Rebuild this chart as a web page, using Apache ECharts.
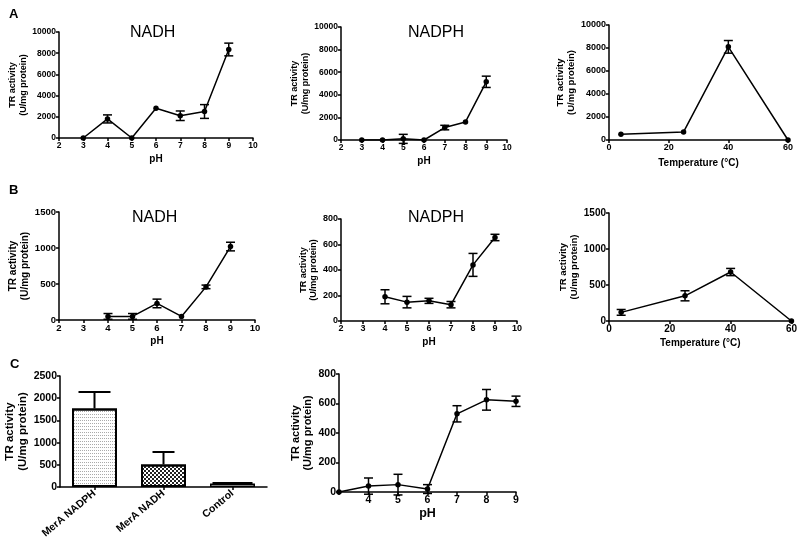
<!DOCTYPE html>
<html><head><meta charset="utf-8">
<script src="https://cdn.jsdelivr.net/npm/echarts@6/dist/echarts.min.js"></script>
<style>html,body{margin:0;padding:0;background:#fff}#c{width:800px;height:541px}</style>
</head><body><div id="c"></div>
<script>
// ---- data ----
const phA = [3,4,5,6,7,8,9];
const aNadh = [0,1800,0,2800,2100,2500,8350];
const aNadhErr = [0,380,0,0,450,650,600];
const aNadph = [0,0,100,0,1100,1600,5150];
const aNadphErr = [0,0,400,0,200,0,500];
const tempA = [4,25,40,60];
const aTemp = [500,700,8100,0];
const aTempErr = [0,0,550,0];
const phB = [4,5,6,7,8,9];
const bNadh = [50,50,230,50,460,1020];
const bNadhErr = [40,40,60,0,25,60];
const bNadph = [190,148,158,128,440,655];
const bNadphErr = [55,45,20,25,90,25];
const tempB = [4,25,40,60];
const bTemp = [120,350,680,0];
const bTempErr = [40,70,50,0];
const cCats = ['MerA NADPH','MerA NADH','Control'];
const cBars = [1770,510,80];
const cBarsErr = [370,280,15];
const phC = [3,4,5,6,7,8,9];
const cPh = [0,40,50,20,530,625,615];
const cPhErr = [0,55,70,30,55,70,35];

const FF = 'Liberation Sans, Arial, sans-serif';
const grids = [
  {left:59, top:32, width:194, height:106},
  {left:341, top:27, width:166, height:113},
  {left:609, top:25, width:179, height:115},
  {left:59, top:212, width:196, height:108},
  {left:341, top:219, width:176, height:102},
  {left:609, top:213, width:184, height:108},
  {left:60, top:376, width:207, height:114},
  {left:339, top:374, width:177, height:118}
];
const lineSt = {color:'#000',width:1.5};
function axBase(fs){
  return {
    axisLine:{show:true,onZero:false,lineStyle:lineSt},
    axisTick:{show:true,inside:false,length:3,lineStyle:lineSt},
    axisLabel:{color:'#000',fontFamily:FF,fontWeight:'bold',fontSize:fs,margin:3},
    splitLine:{show:false}
  };
}
function xv(i,min,max,interval,name,gap,fs,nfs,fmt){
  const b=axBase(fs);
  if(fmt) b.axisLabel.formatter=fmt;
  return Object.assign({type:'value',gridIndex:i,min,max,interval,name,nameLocation:'middle',nameGap:gap,
    nameTextStyle:{color:'#000',fontFamily:FF,fontWeight:'bold',fontSize:nfs}},b);
}
function yv(i,max,interval,gap,fs,nfs){
  const b=axBase(fs);
  b.axisLabel.formatter=v=>String(v);
  return Object.assign({type:'value',gridIndex:i,min:0,max,interval,name:'TR activity\n(U/mg protein)',
    nameLocation:'middle',nameRotate:90,nameGap:gap,
    nameTextStyle:{color:'#000',fontFamily:FF,fontWeight:'bold',fontSize:nfs,lineHeight:nfs+1.5}},b);
}
const catAx = axBase(10.5);
catAx.axisTick = {show:true,alignWithLabel:true,length:3,lineStyle:lineSt};
catAx.axisLabel = {color:'#000',fontFamily:FF,fontWeight:'bold',fontSize:10.5,rotate:40,margin:5};
const xAxes = [
  xv(0,2,10,1,'pH',16,8.5,10),
  xv(1,2,10,1,'pH',16,8.5,10),
  xv(2,0,60,20,'Temperature (°C)',18,9,10),
  xv(3,2,10,1,'pH',16,9.5,10),
  xv(4,2,10,1,'pH',16,9,10),
  xv(5,0,60,20,'Temperature (°C)',17,10,10),
  Object.assign({type:'category',gridIndex:6,data:cCats},catAx),
  xv(7,3,9,1,'pH',15,10.5,12.5,v=>v===3?'':String(v))
];
const yAxes = [
  yv(0,10000,2000,26,8.5,9), yv(1,10000,2000,21,8.5,9), yv(2,10000,2000,27.5,9,9.5),
  yv(3,1500,500,25.5,9.5,10), yv(4,800,200,20.5,9,9), yv(5,1500,500,22.5,10,9.5),
  yv(6,2500,500,29.5,10.5,11.5), yv(7,800,200,20,10.5,11)
];
const BAR_SERIES_ERR = 13;
const barCaps = [16,11,20];
function pairs(xs,ys){return xs.map((x,i)=>[x,ys[i]]);}
function errs(xs,ys,es,upOnly){return xs.map((x,i)=>[x,upOnly?ys[i]:ys[i]-es[i],ys[i]+es[i]]).filter((d,i)=>es[i]>0);}
function errRender(params,api){
  const x=api.value(0),lo=api.value(1),hi=api.value(2);
  const p1=api.coord([x,lo]),p2=api.coord([x,hi]);
  const isBar=params.seriesIndex===BAR_SERIES_ERR;
  const w=isBar?barCaps[params.dataIndex]:4.5;
  const st={stroke:'#000',lineWidth:isBar?2:1.5};
  const ch=[{type:'line',shape:{x1:p1[0],y1:p1[1],x2:p2[0],y2:p2[1]},style:st},
            {type:'line',shape:{x1:p2[0]-w,y1:p2[1],x2:p2[0]+w,y2:p2[1]},style:st}];
  if(!isBar) ch.push({type:'line',shape:{x1:p1[0]-w,y1:p1[1],x2:p1[0]+w,y2:p1[1]},style:st});
  return {type:'group',children:ch};
}
function lineS(i,xs,ys){return {type:'line',xAxisIndex:i,yAxisIndex:i,data:pairs(xs,ys),symbol:'circle',symbolSize:5.5,
  itemStyle:{color:'#000'},lineStyle:{color:'#000',width:1.5},animation:false,z:3};}
function errS(i,xs,ys,es,up){return {type:'custom',xAxisIndex:i,yAxisIndex:i,data:errs(xs,ys,es,up),renderItem:errRender,animation:false,z:4};}
const series = [
  lineS(0,phA,aNadh), lineS(1,phA,aNadph), lineS(2,tempA,aTemp), lineS(3,phB,bNadh),
  lineS(4,phB,bNadph), lineS(5,tempB,bTemp), lineS(7,phC,cPh),
  errS(0,phA,aNadh,aNadhErr), errS(1,phA,aNadph,aNadphErr), errS(2,tempA,aTemp,aTempErr),
  errS(3,phB,bNadh,bNadhErr), errS(4,phB,bNadph,bNadphErr), errS(5,tempB,bTemp,bTempErr),
  errS(6,[0,1,2],cBars,cBarsErr,true), errS(7,phC,cPh,cPhErr),
  {type:'bar',xAxisIndex:6,yAxisIndex:6,barWidth:45,animation:false,z:2,
   data:cBars.map((v,i)=>{
     const it={color:'#fff',borderColor:'#000',borderWidth:i===2?1.5:2};
     if(i===0) it.decal={symbol:'rect',symbolSize:1,dashArrayX:[1,1],dashArrayY:[1,2],color:'#aaa'};
     if(i===1) it.decal={symbol:'rect',symbolSize:1,dashArrayX:[[2,2],[0,2,2,0]],dashArrayY:[2,0],color:'#222'};
     return {value:v,itemStyle:it};
   })}
];
const titles = [
  {text:'A',left:9,top:8},{text:'B',left:9,top:184},{text:'C',left:10,top:358}
].map(t=>Object.assign(t,{padding:0,textStyle:{fontFamily:FF,fontWeight:'bold',fontSize:13,color:'#000'}}))
.concat([
  {text:'NADH',left:130,top:25},{text:'NADPH',left:408,top:25},
  {text:'NADH',left:132,top:210},{text:'NADPH',left:408,top:210}
].map(t=>Object.assign(t,{padding:0,textStyle:{fontFamily:FF,fontWeight:'normal',fontSize:16,color:'#000'}})));
const chart = echarts.init(document.getElementById('c'),null,{renderer:'canvas'});
chart.setOption({backgroundColor:'#fff',animation:false,title:titles,grid:grids,xAxis:xAxes,yAxis:yAxes,series});
</script></body></html>
